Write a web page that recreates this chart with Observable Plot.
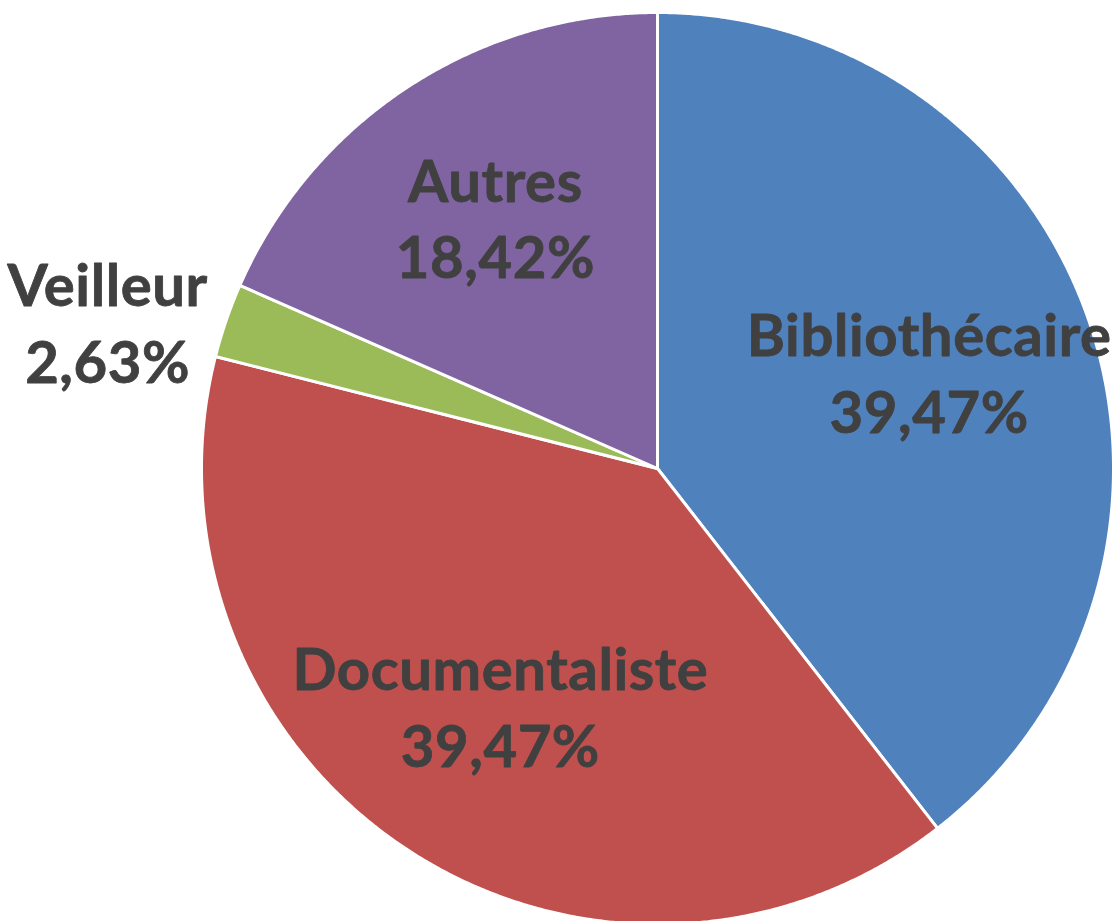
<!DOCTYPE html>
<html>
<head>
<meta charset="utf-8">
<script src="https://cdn.jsdelivr.net/npm/d3@7"></script>
<script src="https://cdn.jsdelivr.net/npm/@observablehq/plot@0.6"></script>
<style>
  html, body { margin: 0; padding: 0; background: #ffffff; }
  #chart { width: 1114px; height: 921px; overflow: hidden; }
  #chart svg text { letter-spacing: 0.6px; }
</style>
</head>
<body>
<div id="chart"></div>
<script>
const categories = ["Bibliothécaire", "Documentaliste", "Veilleur", "Autres"];
const values = [39.47, 39.47, 2.63, 18.42];
const percentLabels = ["39,47%", "39,47%", "2,63%", "18,42%"];
const colors = ["#4F81BD", "#C0504D", "#9BBB59", "#8064A2"];

const W = 1114, H = 921;
const cx = 657, cy = 468, R = 456;

const rows = categories.map((c, i) => ({cat: c, value: values[i], label: percentLabels[i]}));
const arcs = d3.pie().sort(null).value(d => d.value)(rows);

// Build slice polygons (unit radius, y up, angle clockwise from 12 o'clock)
const polyPts = [];
arcs.forEach(a => {
  polyPts.push({cat: a.data.cat, x: 0, y: 0});
  const n = Math.max(2, Math.ceil((a.endAngle - a.startAngle) / 0.005));
  for (let k = 0; k <= n; k++) {
    const t = a.startAngle + (a.endAngle - a.startAngle) * k / n;
    polyPts.push({cat: a.data.cat, x: Math.sin(t), y: Math.cos(t)});
  }
});

// Label positions
const labelPts = arcs.map(a => {
  const mid = (a.startAngle + a.endAngle) / 2;
  const share = (a.endAngle - a.startAngle) / (2 * Math.PI);
  if (share < 0.05) {
    return {cat: a.data.cat, label: a.data.label,
      x: Math.sin(mid) - 0.26, y: Math.cos(mid) - 0.01};
  }
  const r = share < 0.3 ? 0.65 : 0.63;
  return {cat: a.data.cat, label: a.data.label, x: Math.sin(mid) * r, y: Math.cos(mid) * r};
});

const chart = Plot.plot({
  width: W,
  height: H,
  margin: 0,
  x: {domain: [-cx / R, (W - cx) / R], range: [0, W], axis: null},
  y: {domain: [-(H - cy) / R, cy / R], range: [H, 0], axis: null},
  color: {domain: categories, range: colors},
  style: {background: "#ffffff"},
  marks: [
    Plot.line(polyPts, {x: "x", y: "y", z: "cat", fill: "cat", stroke: "#ffffff", strokeWidth: 3, curve: "linear-closed", strokeLinejoin: "round"}),
    Plot.text(labelPts, {
      x: "x", y: "y",
      dy: -5,
      text: d => d.cat + "\n" + d.label,
      fill: "#404040",
      stroke: "#404040",
      strokeWidth: 0.8,
      fontSize: 58,
      fontWeight: "bold",
      fontFamily: "Lato",
      lineHeight: 1.32,
      textAnchor: "middle"
    })
  ]
});

document.getElementById("chart").appendChild(chart);
</script>
</body>
</html>
